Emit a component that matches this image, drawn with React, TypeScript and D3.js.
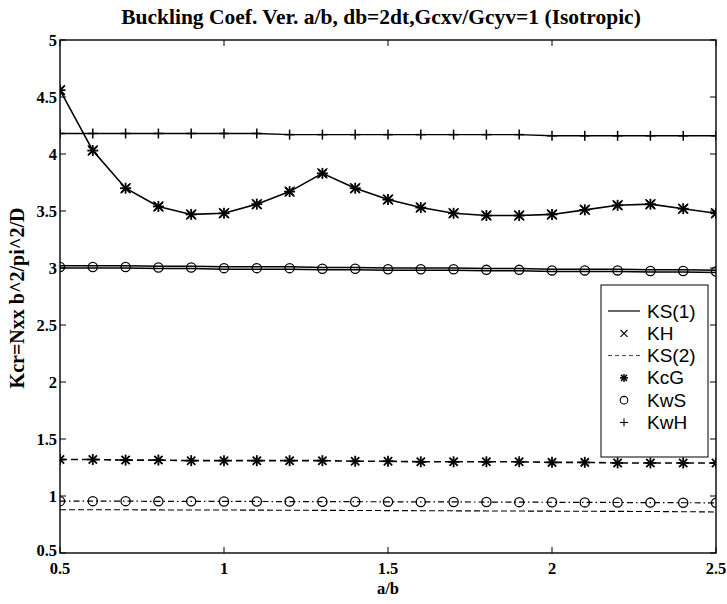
import React from "react";
import * as d3 from "d3";

const aOverB = [0.5, 0.6, 0.7, 0.8, 0.9, 1.0, 1.1, 1.2, 1.3, 1.4, 1.5, 1.6, 1.7, 1.8, 1.9, 2.0, 2.1, 2.2, 2.3, 2.4, 2.5];
const KHtop = [4.56, 4.03, 3.7, 3.54, 3.47, 3.48, 3.56, 3.67, 3.83, 3.7, 3.6, 3.53, 3.48, 3.46, 3.46, 3.47, 3.51, 3.55, 3.56, 3.52, 3.48];
const KwH = [4.18, 4.18, 4.18, 4.18, 4.18, 4.18, 4.18, 4.17, 4.17, 4.17, 4.17, 4.17, 4.17, 4.17, 4.17, 4.16, 4.16, 4.16, 4.16, 4.16, 4.16];
const KS1 = [3.02, 3.02, 3.02, 3.015, 3.015, 3.01, 3.01, 3.01, 3.005, 3.005, 3.0, 3.0, 3.0, 2.995, 2.995, 2.99, 2.99, 2.99, 2.985, 2.985, 2.98];
const KwS = [3.0, 3.0, 3.0, 2.995, 2.995, 2.99, 2.99, 2.99, 2.985, 2.985, 2.98, 2.98, 2.98, 2.975, 2.975, 2.97, 2.97, 2.97, 2.965, 2.965, 2.96];
const KcG = [1.32, 1.32, 1.315, 1.315, 1.31, 1.31, 1.31, 1.31, 1.31, 1.305, 1.305, 1.3, 1.3, 1.3, 1.3, 1.295, 1.295, 1.29, 1.29, 1.29, 1.29];
const KwS2 = [0.955, 0.955, 0.955, 0.953, 0.953, 0.952, 0.952, 0.951, 0.95, 0.95, 0.949, 0.948, 0.948, 0.947, 0.946, 0.945, 0.944, 0.943, 0.942, 0.941, 0.94];
const KS2 = [0.88, 0.88, 0.879, 0.878, 0.877, 0.877, 0.876, 0.875, 0.874, 0.873, 0.872, 0.871, 0.87, 0.869, 0.868, 0.867, 0.866, 0.865, 0.864, 0.862, 0.86];

const xTicks = [0.5, 1, 1.5, 2, 2.5];
const yTicks = [0.5, 1, 1.5, 2, 2.5, 3, 3.5, 4, 4.5, 5];
const legendLabels = ["KS(1)", "KH", "KS(2)", "KcG", "KwS", "KwH"];

const L = 60, R = 716, T = 40, B = 553;

function Asterisk({ x, y, s = 5, w = 1.6 }: { x: number; y: number; s?: number; w?: number }) {
  const d = s * 0.75;
  return (
    <g stroke="#000" strokeWidth={w}>
      <line x1={x - s} y1={y} x2={x + s} y2={y} />
      <line x1={x} y1={y - s} x2={x} y2={y + s} />
      <line x1={x - d} y1={y - d} x2={x + d} y2={y + d} />
      <line x1={x - d} y1={y + d} x2={x + d} y2={y - d} />
    </g>
  );
}
function Cross({ x, y, s = 4, w = 1.2 }: { x: number; y: number; s?: number; w?: number }) {
  return (
    <g stroke="#000" strokeWidth={w}>
      <line x1={x - s} y1={y - s} x2={x + s} y2={y + s} />
      <line x1={x - s} y1={y + s} x2={x + s} y2={y - s} />
    </g>
  );
}
function Plus({ x, y, s = 5, w = 1.2 }: { x: number; y: number; s?: number; w?: number }) {
  return (
    <g stroke="#000" strokeWidth={w}>
      <line x1={x - s} y1={y} x2={x + s} y2={y} />
      <line x1={x} y1={y - s} x2={x} y2={y + s} />
    </g>
  );
}

export default function App() {
  const x = d3.scaleLinear().domain([0.5, 2.5]).range([L, R]);
  const y = d3.scaleLinear().domain([0.5, 5]).range([B, T]);
  const line = (vals: number[]) =>
    d3.line<number>().x((_, i) => x(aOverB[i])).y((v) => y(v))(vals) || "";

  const serif = "'Liberation Serif', 'Times New Roman', serif";
  const sans = "'Liberation Sans', Arial, sans-serif";
  const legX = 601, legY = 285, legW = 107, legH = 172;
  const rowY = (i: number) => legY + 26 + i * 22.3;

  return (
    <div style={{ position: "absolute", left: 0, top: 0 }}>
      <svg width={727} height={604} style={{ display: "block", background: "#fff" }}>
        <defs>
          <clipPath id="plotclip">
            <rect x={L} y={T} width={R - L} height={B - T} />
          </clipPath>
        </defs>
        <text x={381} y={24} textAnchor="middle" fontFamily={serif} fontWeight="bold" fontSize={21.5}>
          Buckling Coef. Ver. a/b, db=2dt,Gcxv/Gcyv=1 (Isotropic)
        </text>

        <g clipPath="url(#plotclip)" fill="none" stroke="#000">
          <path d={line(KHtop)} strokeWidth={1.6} />
          <path d={line(KwH)} strokeWidth={1.4} />
          <path d={line(KS1)} strokeWidth={1.5} />
          <path d={line(KwS)} strokeWidth={1.5} />
          <path d={line(KcG)} strokeWidth={1.6} strokeDasharray="7,4" />
          <path d={line(KwS2)} strokeWidth={1.2} strokeDasharray="6,3,1.5,3" />
          <path d={line(KS2)} strokeWidth={1.1} strokeDasharray="6,3" />
        </g>

        <g clipPath="url(#plotclip)">
          {aOverB.map((a, i) => (
            <g key={"m" + i}>
              <Asterisk x={x(a)} y={y(KHtop[i])} s={5.5} w={1.8} />
              <Cross x={x(a)} y={y(KHtop[i])} s={5} w={1.4} />
              <Plus x={x(a)} y={y(KwH[i])} s={5} w={1.5} />
              <circle cx={x(a)} cy={y(KwS[i]) - 1} r={4.6} fill="none" stroke="#000" strokeWidth={1.3} />
              <Asterisk x={x(a)} y={y(KcG[i])} s={5.5} w={1.8} />
              <circle cx={x(a)} cy={y(KwS2[i])} r={4.6} fill="none" stroke="#000" strokeWidth={1.3} />
            </g>
          ))}
        </g>

        <rect x={L} y={T} width={R - L} height={B - T} fill="none" stroke="#000" strokeWidth={1.4} />
        {xTicks.map((t) => (
          <g key={"xt" + t} stroke="#000" strokeWidth={1}>
            <line x1={x(t)} y1={B} x2={x(t)} y2={B - 6} />
            <line x1={x(t)} y1={T} x2={x(t)} y2={T + 6} />
          </g>
        ))}
        {yTicks.map((t) => (
          <g key={"yt" + t} stroke="#000" strokeWidth={1}>
            <line x1={L} y1={y(t)} x2={L + 6} y2={y(t)} />
            <line x1={R} y1={y(t)} x2={R - 6} y2={y(t)} />
          </g>
        ))}
        {xTicks.map((t) => (
          <text key={"xl" + t} x={x(t)} y={B + 21} textAnchor="middle" fontFamily={serif} fontWeight="bold" fontSize={16.5}>
            {String(t)}
          </text>
        ))}
        {yTicks.map((t) => (
          <text key={"yl" + t} x={L - 3} y={y(t) + (t === 0.5 ? 3 : 6)} textAnchor="end" fontFamily={serif} fontWeight="bold" fontSize={16.5}>
            {String(t)}
          </text>
        ))}
        <text x={388} y={594} textAnchor="middle" fontFamily={serif} fontWeight="bold" fontSize={16.5}>
          a/b
        </text>
        <text
          transform={`translate(24,298) rotate(-90)`}
          textAnchor="middle"
          fontFamily={serif}
          fontWeight="bold"
          fontSize={20}
        >
          Kcr=Nxx b^2/pi^2/D
        </text>

        <rect x={legX} y={legY} width={legW} height={legH} fill="#fff" stroke="#000" strokeWidth={1} />
        {legendLabels.map((lab, i) => {
          const cy = rowY(i);
          const sx1 = legX + 7, sx2 = legX + 39, mx = (sx1 + sx2) / 2;
          return (
            <g key={lab}>
              {i === 0 && <line x1={sx1} y1={cy} x2={sx2} y2={cy} stroke="#000" strokeWidth={1.2} />}
              {i === 1 && <Cross x={mx} y={cy} s={3.5} w={1.2} />}
              {i === 2 && <line x1={sx1} y1={cy} x2={sx2} y2={cy} stroke="#444" strokeWidth={1} strokeDasharray="4,3" />}
              {i === 3 && <Asterisk x={mx} y={cy} s={4} w={1.5} />}
              {i === 4 && <circle cx={mx} cy={cy} r={3.8} fill="none" stroke="#000" strokeWidth={1.1} />}
              {i === 5 && <Plus x={mx} y={cy} s={4} w={1.1} />}
              <text x={legX + 46} y={cy + 6.5} fontFamily={sans} fontSize={19}>
                {lab}
              </text>
            </g>
          );
        })}
      </svg>
    </div>
  );
}
